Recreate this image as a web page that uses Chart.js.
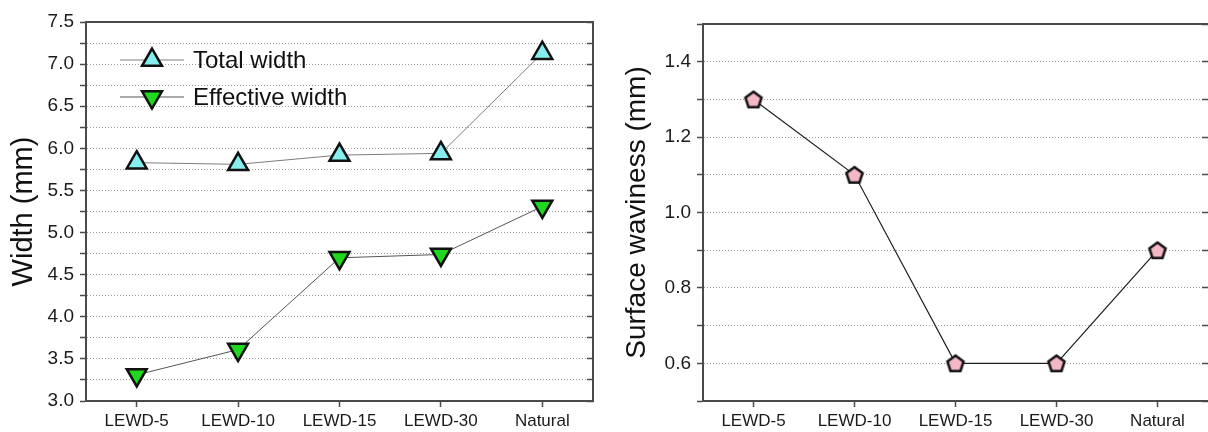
<!DOCTYPE html>
<html><head><meta charset="utf-8">
<script src="https://cdn.jsdelivr.net/npm/chart.js@4.4.1/dist/chart.umd.min.js"></script>
<style>
html,body{margin:0;padding:0;background:#fff;}
#wrap{position:relative;width:1208px;height:432px;overflow:hidden;}
#c1{position:absolute;left:0;top:0;}
#c2{position:absolute;left:600px;top:0;}
</style></head><body>
<div id="wrap"><canvas id="c1" width="600" height="432"></canvas><canvas id="c2" width="608" height="432"></canvas></div>
<script>
// ---- data ----
const categories = ['LEWD-5', 'LEWD-10', 'LEWD-15', 'LEWD-30', 'Natural'];
const totalWidth = [5.83, 5.81, 5.92, 5.94, 7.13];
const effectiveWidth = [3.31, 3.61, 4.70, 4.74, 5.31];
const surfaceWaviness = [1.3, 1.1, 0.6, 0.6, 0.9];
const widthTicks = [3.0, 3.5, 4.0, 4.5, 5.0, 5.5, 6.0, 6.5, 7.0, 7.5];
const wavinessTicks = [0.6, 0.8, 1.0, 1.2, 1.4];
const seriesLabels = ['Total width', 'Effective width'];
const leftTitle = 'Width (mm)';
const rightTitle = 'Surface waviness (mm)';

// ---- styling ----
const FONT = "'Liberation Sans', Arial, Helvetica, sans-serif";
const AX = '#4a4a4a';
const GRID = '#9c9c9c';
const DASH = [1, 2];
Chart.defaults.font.family = FONT;
Chart.defaults.color = '#1a1a1a';

function near(v, arr) { return arr.some(a => Math.abs(a - v) < 1e-6); }

function pentagonImage(r, fill, stroke, lw) {
  const size = Math.ceil(2 * r + lw + 4);
  const c = document.createElement('canvas');
  c.width = size; c.height = size;
  const g = c.getContext('2d');
  const cx = size / 2, cy = size / 2 + r * (1 - Math.cos(Math.PI / 5)) / 2;
  g.beginPath();
  for (let k = 0; k < 5; k++) {
    const a = -Math.PI / 2 + k * 2 * Math.PI / 5;
    const x = cx + r * Math.cos(a), y = cy + r * Math.sin(a);
    if (k === 0) g.moveTo(x, y); else g.lineTo(x, y);
  }
  g.closePath();
  g.fillStyle = fill; g.fill();
  g.lineWidth = lw; g.lineJoin = 'miter'; g.strokeStyle = stroke; g.stroke();
  return c;
}

function yGrid(min, max) {
  return {
    color: (c) => (c.tick && (Math.abs(c.tick.value - min) < 1e-6 || Math.abs(c.tick.value - max) < 1e-6)) ? 'rgba(0,0,0,0)' : GRID,
    lineWidth: 1, borderDash: DASH,
    drawOnChartArea: true, drawTicks: true, tickLength: 6, tickColor: AX, tickWidth: 1.5
  };
}

const insideLegend = {
  id: 'insideLegend',
  afterDatasetsDraw(chart) {
    const ctx = chart.ctx;
    const rows = [60, 97];
    chart.data.datasets.forEach((ds, i) => {
      const y = rows[i];
      ctx.save();
      ctx.strokeStyle = ds.borderColor; ctx.lineWidth = 1;
      ctx.beginPath(); ctx.moveTo(120, y); ctx.lineTo(184, y); ctx.stroke();
      ctx.fillStyle = ds.pointBackgroundColor;
      ctx.strokeStyle = ds.pointBorderColor;
      ctx.lineWidth = ds.pointBorderWidth;
      Chart.helpers.drawPoint(ctx, {
        pointStyle: ds.pointStyle, rotation: ds.pointRotation || 0,
        radius: ds.pointRadius, borderWidth: ds.pointBorderWidth
      }, 152, y);
      ctx.fillStyle = '#111';
      ctx.font = '24px ' + FONT;
      ctx.textBaseline = 'middle'; ctx.textAlign = 'left';
      ctx.fillText(ds.label, 193, y + 1);
      ctx.restore();
    });
  }
};

function xAxes() {
  return {
    x: {
      type: 'category', position: 'bottom', offset: true,
      ticks: { font: { family: FONT, size: 17 }, color: '#1a1a1a', padding: 4, autoSkip: false, maxRotation: 0 },
      grid: { drawOnChartArea: false, drawTicks: true, tickLength: 6, tickColor: AX, tickWidth: 1.5, offset: false },
      border: { display: true, color: AX, width: 2 },
      afterFit: (s) => { s.height = 31; }
    },
    x2: {
      type: 'category', position: 'top', labels: categories, offset: true,
      ticks: { display: false },
      grid: { drawOnChartArea: false, drawTicks: false },
      border: { display: true, color: AX, width: 2 },
      afterFit: (s) => { s.height = 0; }
    }
  };
}

// ---- left chart ----
new Chart(document.getElementById('c1'), {
  type: 'line',
  data: {
    labels: categories,
    datasets: [
      {
        label: seriesLabels[0], data: totalWidth,
        borderColor: '#7c7c7c', borderWidth: 1, tension: 0,
        pointStyle: 'triangle', pointRadius: 11.5, pointHoverRadius: 11.5,
        pointBackgroundColor: '#86eeee', pointBorderColor: '#111', pointBorderWidth: 2.5
      },
      {
        label: seriesLabels[1], data: effectiveWidth,
        borderColor: '#555555', borderWidth: 1, tension: 0,
        pointStyle: 'triangle', pointRotation: 180, pointRadius: 11.5, pointHoverRadius: 11.5,
        pointBackgroundColor: '#1fd81f', pointBorderColor: '#111', pointBorderWidth: 2.5
      }
    ]
  },
  options: {
    responsive: false, animation: false, devicePixelRatio: 1,
    layout: { autoPadding: false, padding: { left: 0, right: 7, top: 22, bottom: 0 } },
    plugins: { legend: { display: false }, tooltip: { enabled: false } },
    scales: Object.assign(xAxes(), {
      y: {
        type: 'linear', position: 'left', min: 3, max: 7.5,
        ticks: {
          stepSize: 0.25, autoSkip: false, padding: 6,
          font: { family: FONT, size: 19 }, color: '#1a1a1a',
          callback: (v) => near(v, widthTicks) ? Number(v).toFixed(1) : ''
        },
        grid: yGrid(3, 7.5),
        border: { display: true, color: AX, width: 2, dash: DASH },
        title: { display: true, text: leftTitle, font: { family: FONT, size: 29 }, color: '#111', padding: { top: 7, bottom: 0 } },
        afterFit: (s) => { s.width = 86; }
      },
      y2: {
        type: 'linear', position: 'right', min: 3, max: 7.5,
        ticks: { display: false, stepSize: 0.25 },
        grid: { drawOnChartArea: false, drawTicks: true, tickLength: -6, tickColor: AX, tickWidth: 1.5 },
        border: { display: true, color: AX, width: 2 },
        afterFit: (s) => { s.width = 0; }
      }
    })
  },
  plugins: [insideLegend]
});

// ---- right chart ----
const pent = pentagonImage(8.5, '#f3b7c6', '#111', 2.5);
new Chart(document.getElementById('c2'), {
  type: 'line',
  data: {
    labels: categories,
    datasets: [{
      label: rightTitle, data: surfaceWaviness,
      borderColor: '#1e1e1e', borderWidth: 1.2, tension: 0,
      pointStyle: pent, pointRadius: 9, pointHoverRadius: 9
    }]
  },
  options: {
    responsive: false, animation: false, devicePixelRatio: 1,
    layout: { autoPadding: false, padding: { left: 0, right: 0, top: 24, bottom: 0 } },
    plugins: { legend: { display: false }, tooltip: { enabled: false } },
    scales: Object.assign(xAxes(), {
      y: {
        type: 'linear', position: 'left', min: 0.5, max: 1.5,
        ticks: {
          stepSize: 0.1, autoSkip: false, padding: 6,
          font: { family: FONT, size: 19 }, color: '#1a1a1a',
          callback: (v) => near(v, wavinessTicks) ? Number(v).toFixed(1) : ''
        },
        grid: yGrid(0.5, 1.5),
        border: { display: true, color: AX, width: 2, dash: DASH },
        title: { display: true, text: rightTitle, font: { family: FONT, size: 28 }, color: '#111', padding: { top: 20, bottom: 0 } },
        afterFit: (s) => { s.width = 103; }
      },
      y2: {
        type: 'linear', position: 'right', min: 0.5, max: 1.5,
        ticks: { display: false, stepSize: 0.1 },
        grid: { drawOnChartArea: false, drawTicks: true, tickLength: -6, tickColor: AX, tickWidth: 1.5 },
        border: { display: false },
        afterFit: (s) => { s.width = 0; }
      }
    })
  }
});
</script>
</body></html>
